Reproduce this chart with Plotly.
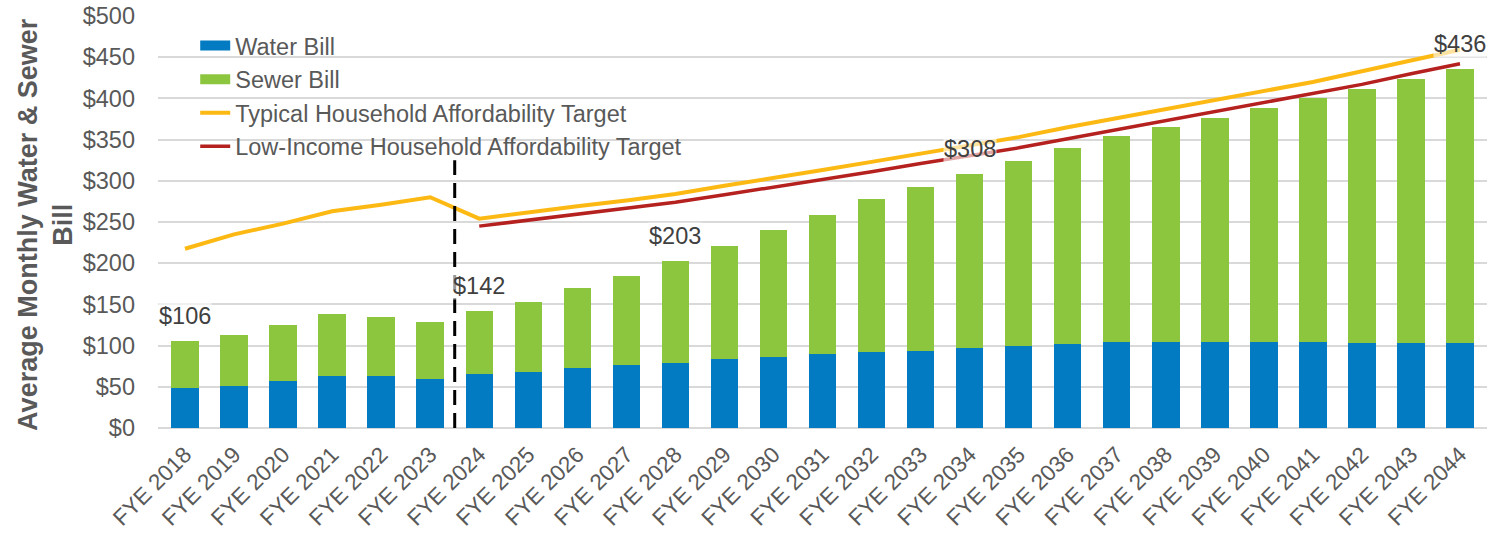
import plotly.graph_objects as go

years = [f"FYE {y}" for y in range(2018, 2045)]

water_bill = [48.5, 50.5, 57.5, 63, 63, 60, 65, 68.5, 73, 76.5, 79, 83.5, 86.5, 90,
              92, 94, 97, 99, 102, 104.5, 104.5, 104.5, 104.5, 104.5, 103.5, 103.5, 103.5]
sewer_bill = [57.5, 62, 67, 75.5, 71.5, 69, 77, 85, 96.5, 108.5, 124, 137.5, 154, 168.5,
              186.5, 198.5, 211, 225, 237.5, 249.5, 261, 272, 283.5, 295.5, 308, 320.5, 332.5]
typical_target = [217.5, 235, 248, 263, 271, 280, 254, 262, 269, 276, 284, 294, 303, 313,
                  323, 333, 342, 353, 365, 376, 386, 397, 409, 420, 433, 446, 459]
low_income_target = [None, None, None, None, None, None, 245, 252, 259, 266, 274, 283, 292,
                     302, 311, 321, 330, 340, 351, 362, 372, 383, 394, 405, 417, 430, 442]
labeled_years = ["FYE 2018", "FYE 2024", "FYE 2028", "FYE 2034", "FYE 2044"]
divider_position = 5.5   # between FYE 2023 and FYE 2024
divider_top = 325

FONT = "Arial, Liberation Sans, sans-serif"
GRAY = "#595959"
BLUE = "#027BC2"
GREEN = "#8CC63F"
FS = 23.5

fig = go.Figure()
fig.add_trace(go.Bar(x=years, y=water_bill, name="Water Bill", showlegend=False,
                     legendgroup="water", marker=dict(color=BLUE, line=dict(width=0))))
fig.add_trace(go.Bar(x=years, y=sewer_bill, name="Sewer Bill", showlegend=False,
                     legendgroup="sewer", marker=dict(color=GREEN, line=dict(width=0))))
# legend-only entries with wide rectangular swatches
fig.add_trace(go.Scatter(x=[None], y=[None], mode="lines", name="Water Bill",
                         legendgroup="water", line=dict(color=BLUE, width=11)))
fig.add_trace(go.Scatter(x=[None], y=[None], mode="lines", name="Sewer Bill",
                         legendgroup="sewer", line=dict(color=GREEN, width=11)))
fig.add_trace(go.Scatter(x=years, y=typical_target, mode="lines",
                         name="Typical Household Affordability Target",
                         line=dict(color="#FDB913", width=4)))
fig.add_trace(go.Scatter(x=years, y=low_income_target, mode="lines",
                         name="Low-Income Household Affordability Target",
                         line=dict(color="#B5211F", width=3.5)))

totals = {y: w + s for y, w, s in zip(years, water_bill, sewer_bill)}
for yr in labeled_years:
    fig.add_annotation(x=yr, y=totals[yr], text=f"${round(totals[yr])}",
                       showarrow=False, yshift=25,
                       font=dict(family=FONT, size=FS, color="#404040"),
                       bgcolor="rgba(255,255,255,0.6)", borderpad=0)

fig.add_shape(type="line", xref="x", yref="y", x0=divider_position, x1=divider_position,
              y0=0, y1=divider_top, line=dict(color="black", width=3, dash="15px,8px"))

fig.add_annotation(xref="paper", yref="paper", x=0, y=0.493, xshift=-112,
                   xanchor="center", yanchor="middle",
                   text="<b>Average Monthly Water & Sewer<br>Bill</b>", textangle=-90,
                   showarrow=False, font=dict(family=FONT, size=27, color=GRAY))

fig.update_layout(
    width=1493, height=533, autosize=False,
    margin=dict(l=158, r=6, t=16, b=105),
    barmode="stack", bargap=0.44,
    plot_bgcolor="white", paper_bgcolor="white",
    font=dict(family=FONT, size=FS, color=GRAY),
    showlegend=True,
    legend=dict(x=0.028, y=0.981, xanchor="left", yanchor="top",
                bgcolor="rgba(0,0,0,0)", font=dict(family=FONT, size=FS, color=GRAY),
                traceorder="normal"),
    hovermode=False,
)
fig.update_yaxes(range=[0, 500], dtick=50, tickprefix="$", showgrid=True,
                 gridcolor="#D9D9D9", gridwidth=1.5, zeroline=True,
                 zerolinecolor="#D9D9D9", zerolinewidth=2, showline=False,
                 automargin=False, ticklabelstandoff=22, ticklabeloverflow="allow",
                 tickfont=dict(family=FONT, size=FS, color=GRAY))
fig.update_xaxes(tickangle=-45, showgrid=False, showline=False, automargin=False,
                 ticklabelstandoff=8, ticklabeloverflow="allow",
                 tickfont=dict(family=FONT, size=22.5, color=GRAY))

fig.write_html("out.html", config={"displayModeBar": False},
               post_script="document.body.style.margin='0';document.body.style.overflow='hidden';")
